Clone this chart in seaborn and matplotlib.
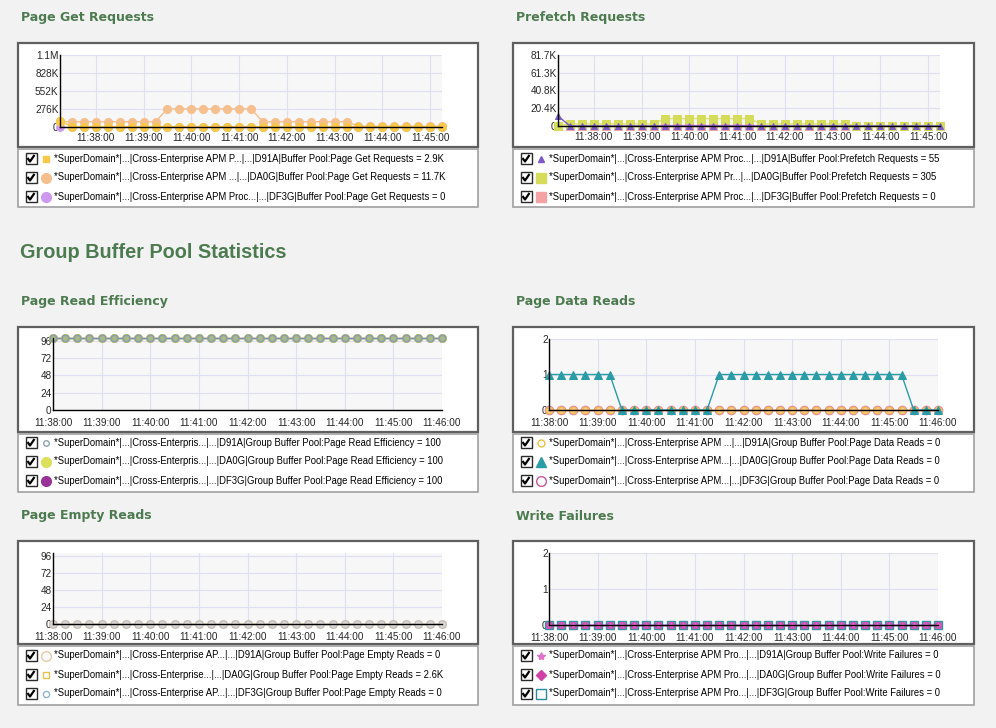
import pandas as pd
import seaborn as sns
import matplotlib.pyplot as plt
from matplotlib.patches import Rectangle

W, H = 996, 728
DAY = '2024-01-01 '

# sample times, one every 15 s
t_top = pd.date_range(DAY + '11:37:15', periods=33, freq='15s')
t_bot = pd.date_range(DAY + '11:38:00', periods=33, freq='15s')
ticks_top = ['11:38:00', '11:39:00', '11:40:00', '11:41:00', '11:42:00', '11:43:00', '11:44:00', '11:45:00']
ticks_bot = ['11:38:00', '11:39:00', '11:40:00', '11:41:00', '11:42:00', '11:43:00', '11:44:00', '11:45:00', '11:46:00']

# Page Get Requests
get_d91a = [96000, 3000, 3000, 3000, 3000, 3000, 3000, 3000, 3000, 3000, 3000, 3000, 3000, 3000, 3000, 3000, 3000,
            3000, 3000, 3000, 3000, 3000, 3000, 3000, 3000, 3000, 3000, 3000, 3000, 3000, 3000, 3000, 2900]
get_da0g = [81000, 81000, 81000, 81000, 81000, 81000, 81000, 81000, 81000,
            278000, 278000, 278000, 278000, 278000, 278000, 278000, 278000,
            81000, 81000, 81000, 81000, 81000, 81000, 81000, 81000,
            11700, 11700, 11700, 11700, 11700, 11700, 11700, 11700]
get_df3g = [0] * 33
get_yticks = [0, 276000, 552000, 828000, 1104000]
get_ylabels = ['0', '276K', '552K', '828K', '1.1M']

# Prefetch Requests
pre_d91a = [11500, 55, 55, 55, 55, 55, 55, 55, 55, 55, 55, 55, 55, 55, 55, 55, 55,
            55, 55, 55, 55, 55, 55, 55, 55, 55, 55, 55, 55, 55, 55, 55, 55]
pre_da0g = [0, 2500, 2500, 2500, 2500, 2500, 2500, 2500, 2500,
            8500, 8500, 8500, 8500, 8500, 8500, 8500, 8500,
            2500, 2500, 2500, 2500, 2500, 2500, 2500, 2500,
            305, 305, 305, 305, 305, 305, 305, 305]
pre_df3g = [0] * 33
pre_yticks = [0, 20425, 40850, 61275, 81700]
pre_ylabels = ['0', '20.4K', '40.8K', '61.3K', '81.7K']

# Page Read Efficiency
eff_d91a = [100] * 33
eff_da0g = [100] * 33
eff_df3g = [100] * 33
pct_yticks = [0, 24, 48, 72, 96]
pct_ylabels = ['0', '24', '48', '72', '96']

# Page Data Reads
dr_d91a = [0] * 33
dr_da0g = [1, 1, 1, 1, 1, 1, 0, 0, 0, 0, 0, 0, 0, 0,
           1, 1, 1, 1, 1, 1, 1, 1, 1, 1, 1, 1, 1, 1, 1, 1, 0, 0, 0]
dr_df3g = [0] * 33
cnt_yticks = [0, 1, 2]
cnt_ylabels = ['0', '1', '2']

# Page Empty Reads
er_d91a = [0] * 33
er_da0g = [0] * 33
er_df3g = [0] * 33

# Write Failures
wf_d91a = [0] * 33
wf_da0g = [0] * 33
wf_df3g = [0] * 33

legend_get = ['*SuperDomain*|...|Cross-Enterprise APM P...|...|D91A|Buffer Pool:Page Get Requests = 2.9K',
              '*SuperDomain*|...|Cross-Enterprise APM ...|...|DA0G|Buffer Pool:Page Get Requests = 11.7K',
              '*SuperDomain*|...|Cross-Enterprise APM Proc...|...|DF3G|Buffer Pool:Page Get Requests = 0']
legend_pre = ['*SuperDomain*|...|Cross-Enterprise APM Proc...|...|D91A|Buffer Pool:Prefetch Requests = 55',
              '*SuperDomain*|...|Cross-Enterprise APM Pr...|...|DA0G|Buffer Pool:Prefetch Requests = 305',
              '*SuperDomain*|...|Cross-Enterprise APM Proc...|...|DF3G|Buffer Pool:Prefetch Requests = 0']
legend_eff = ['*SuperDomain*|...|Cross-Enterpris...|...|D91A|Group Buffer Pool:Page Read Efficiency = 100',
              '*SuperDomain*|...|Cross-Enterpris...|...|DA0G|Group Buffer Pool:Page Read Efficiency = 100',
              '*SuperDomain*|...|Cross-Enterpris...|...|DF3G|Group Buffer Pool:Page Read Efficiency = 100']
legend_dr = ['*SuperDomain*|...|Cross-Enterprise APM ...|...|D91A|Group Buffer Pool:Page Data Reads = 0',
             '*SuperDomain*|...|Cross-Enterprise APM...|...|DA0G|Group Buffer Pool:Page Data Reads = 0',
             '*SuperDomain*|...|Cross-Enterprise APM...|...|DF3G|Group Buffer Pool:Page Data Reads = 0']
legend_er = ['*SuperDomain*|...|Cross-Enterprise AP...|...|D91A|Group Buffer Pool:Page Empty Reads = 0',
             '*SuperDomain*|...|Cross-Enterprise...|...|DA0G|Group Buffer Pool:Page Empty Reads = 2.6K',
             '*SuperDomain*|...|Cross-Enterprise AP...|...|DF3G|Group Buffer Pool:Page Empty Reads = 0']
legend_wf = ['*SuperDomain*|...|Cross-Enterprise APM Pro...|...|D91A|Group Buffer Pool:Write Failures = 0',
             '*SuperDomain*|...|Cross-Enterprise APM Pro...|...|DA0G|Group Buffer Pool:Write Failures = 0',
             '*SuperDomain*|...|Cross-Enterprise APM Pro...|...|DF3G|Group Buffer Pool:Write Failures = 0']

titles = ['Page Get Requests', 'Prefetch Requests', 'Page Read Efficiency', 'Page Data Reads',
          'Page Empty Reads', 'Write Failures']

sns.set_style('white')
plt.rcParams['font.family'] = ['Liberation Sans', 'DejaVu Sans']

GREEN = '#4d7b50'
fig = plt.figure(figsize=(W / 100, H / 100), dpi=100, facecolor='#f2f2f2')
bg = fig.add_axes([0, 0, 1, 1], zorder=0)
bg.set_xlim(0, W)
bg.set_ylim(H, 0)
bg.axis('off')


def px_axes(x0, y0, x1, y1):
    return fig.add_axes([x0 / W, 1 - y1 / H, (x1 - x0) / W, (y1 - y0) / H], zorder=2)


def frame(x0, x1, title_y, top, mid, bot):
    bg.text(x0 + 3, title_y, titles.pop(0), fontsize=9, fontweight='bold', color=GREEN,
            family='DejaVu Sans', va='center')
    bg.add_patch(Rectangle((x0, top), x1 - x0, mid - top, fc='white', ec='#5f5f5f', lw=1.6))
    bg.add_patch(Rectangle((x0, mid + 1.5), x1 - x0, bot - mid - 1.5, fc='white', ec='#a0a0a0', lw=1.2))


def legend_rows(x0, top, labels, markers):
    for i, (lab, mk) in enumerate(zip(labels, markers)):
        cy = top + 9.5 + 19 * i
        cx = x0 + 13
        bg.add_patch(Rectangle((cx - 5.5, cy - 5.5), 11, 11, fc='white', ec='#2a2a2a', lw=1))
        bg.plot([cx - 3.5, cx - 1, cx + 3.5], [cy - 0.5, cy + 3, cy - 3.5], color='black', lw=1.6,
                solid_capstyle='butt')
        bg.plot([x0 + 28], [cy], linestyle='none', **mk)
        bg.text(x0 + 36, cy, lab, fontsize=6.85, va='center', ha='left', color='black')


def style_chart(ax, xlim, ticks, yticks, ylabels, ylim, xtickmarks):
    ax.set_facecolor('#f7f7f8')
    ax.set_xlim(pd.Timestamp(DAY + xlim[0]), pd.Timestamp(DAY + xlim[1]))
    ax.set_ylim(*ylim)
    ax.set_xticks([pd.Timestamp(DAY + t) for t in ticks])
    ax.set_xticklabels(ticks)
    ax.set_yticks(yticks)
    ax.set_yticklabels(ylabels)
    ax.set_yticks([(a + b) / 2 for a, b in zip(yticks[:-1], yticks[1:])], minor=True)
    ax.grid(True, which='major', color='#dedff0', lw=0.8)
    ax.set_axisbelow(True)
    for s in ['top', 'right']:
        ax.spines[s].set_visible(False)
    for s in ['left', 'bottom']:
        ax.spines[s].set_color('black')
        ax.spines[s].set_linewidth(1)
    ax.tick_params(axis='y', which='both', direction='inout', length=5, width=1, pad=-1.5, labelsize=7.2)
    ax.tick_params(axis='x', which='major', direction='inout', length=5 if xtickmarks else 0, width=1,
                   pad=3 if xtickmarks else 4, labelsize=7.2)
    ax.set_xlabel('')
    ax.set_ylabel('')


def line(ax, t, vals, color, **kw):
    sns.lineplot(x=t, y=vals, ax=ax, color=color, lw=1, clip_on=False, legend=False, **kw)


bg.text(20, 252, 'Group Buffer Pool Statistics', fontsize=14.3, fontweight='bold', color=GREEN, va='center')

LX0, LX1 = 18, 478
RX0, RX1 = 513, 974

# ---------------- row 1 ----------------
frame(LX0, LX1, 18, 43, 147, 207)
ax = px_axes(60, 55, 442, 127)
line(ax, t_top, get_df3g, '#cc99ee', marker='o', ms=5.5, mec='#cc99ee')
line(ax, t_top, get_da0g, '#f5c08e', marker='o', ms=5.8, mec='#f5c08e')
line(ax, t_top, get_d91a, '#f8c84a', marker='o', ms=5.8, mec='#f8c84a')
ax.plot(t_top[:1], get_d91a[:1], linestyle='none', marker='s', ms=5, color='#f8c84a', clip_on=False)
style_chart(ax, ('11:37:15', '11:45:15'), ticks_top, get_yticks, get_ylabels, (0, 1104000), False)
legend_rows(LX0, 149, legend_get, [
    dict(marker='s', ms=4.5, color='#f8c84a'),
    dict(marker='o', ms=7, color='#f5c08e'),
    dict(marker='o', ms=7, color='#cc99ee')])

frame(RX0, RX1, 18, 43, 147, 207)
ax = px_axes(558, 55, 940, 126)
line(ax, t_top, pre_df3g, '#f3a3a3', marker='s', ms=6, mec='#f3a3a3')
line(ax, t_top, pre_da0g, '#dfe27a', marker='s', ms=6, mec='#d5dc5a', mfc='#d5dc5a')
line(ax, t_top, pre_d91a, '#7a5cc4', marker='^', ms=4.5, mec='#7a5cc4')
style_chart(ax, ('11:37:15', '11:45:15'), ticks_top, pre_yticks, pre_ylabels, (0, 81700), False)
legend_rows(RX0, 149, legend_pre, [
    dict(marker='^', ms=5, color='#7a5cc4'),
    dict(marker='s', ms=7, color='#d5dc5a'),
    dict(marker='s', ms=7, color='#f3a3a3')])

# ---------------- row 2 ----------------
frame(LX0, LX1, 301, 327, 432, 492)
ax = px_axes(53, 338, 442, 410)
line(ax, t_bot, eff_df3g, '#993399', marker='o', ms=5.5, mec='#993399')
line(ax, t_bot, eff_da0g, '#dde05a', marker='o', ms=5.8, mec='#dde05a')
line(ax, t_bot, eff_d91a, '#7894a4', marker='o', ms=4.8, mfc='#a9b98a', mec='#8a9fa8', mew=1.2)
style_chart(ax, ('11:38:00', '11:46:00'), ticks_bot, pct_yticks, pct_ylabels, (0, 100), True)
legend_rows(LX0, 433, legend_eff, [
    dict(marker='o', ms=4, mfc='white', mec='#8aa4b4', mew=1),
    dict(marker='o', ms=7, color='#dde05a'),
    dict(marker='o', ms=7, color='#993399')])

frame(RX0, RX1, 301, 327, 432, 492)
ax = px_axes(549, 339, 938, 410)
line(ax, t_bot, dr_df3g, '#e48aa2', marker='o', ms=6, mfc='#f6cf9a', mec='#e48aa2', mew=1)
line(ax, t_bot, dr_d91a, '#f2b84a', marker='o', ms=4.6, mfc='none', mec='#f2c04e', mew=1)
line(ax, t_bot, dr_da0g, '#2a9ca6', marker='^', ms=5.5, mec='#2a9ca6')
style_chart(ax, ('11:38:00', '11:46:00'), ticks_bot, cnt_yticks, cnt_ylabels, (0, 2), True)
legend_rows(RX0, 433, legend_dr, [
    dict(marker='o', ms=5, mfc='white', mec='#f0c040', mew=1),
    dict(marker='^', ms=7, color='#2a9ca6'),
    dict(marker='o', ms=7, mfc='white', mec='#cc5599', mew=1)])

# ---------------- row 3 ----------------
frame(LX0, LX1, 516, 541, 644, 705)
ax = px_axes(53, 553, 442, 624)
line(ax, t_bot, er_df3g, '#8fb7cf', marker='o', ms=4, mfc='none', mec='#8fb7cf')
line(ax, t_bot, er_da0g, '#e8c04a', marker='s', ms=4, mfc='none', mec='#e8c04a')
line(ax, t_bot, er_d91a, '#e8c090', marker='o', ms=5.5, mfc='#d8d8d8', mec='#c8c0b8', mew=1)
style_chart(ax, ('11:38:00', '11:46:00'), ticks_bot, pct_yticks, pct_ylabels, (0, 100), True)
legend_rows(LX0, 646, legend_er, [
    dict(marker='o', ms=7, mfc='white', mec='#e6c9a4', mew=1),
    dict(marker='s', ms=5, mfc='white', mec='#e6c24a', mew=1),
    dict(marker='o', ms=4.5, mfc='white', mec='#8fb7cf', mew=1)])

frame(RX0, RX1, 516, 541, 644, 705)
ax = px_axes(549, 553, 938, 625)
line(ax, t_bot, wf_df3g, '#c050b0', marker='s', ms=6.2, mfc='#a880c0', mec='#3f8fa0', mew=1)
line(ax, t_bot, wf_da0g, '#c050b0', marker='o', ms=4.3, mec='#d050b8', mfc='#d050b8')
line(ax, t_bot, wf_d91a, '#c050b0', marker='*', ms=3, mec='#e070c8', mfc='#e070c8')
style_chart(ax, ('11:38:00', '11:46:00'), ticks_bot, cnt_yticks, cnt_ylabels, (0, 2), True)
legend_rows(RX0, 646, legend_wf, [
    dict(marker='*', ms=6, color='#e070c8'),
    dict(marker='D', ms=5, color='#d040a8'),
    dict(marker='s', ms=7.5, mfc='white', mec='#2a8aa0', mew=1)])

fig.savefig('out.png', dpi=100, facecolor=fig.get_facecolor())
